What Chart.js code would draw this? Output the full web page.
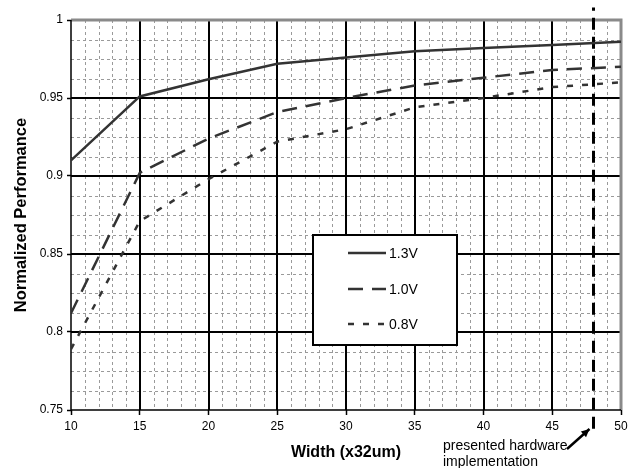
<!DOCTYPE html>
<html>
<head>
<meta charset="utf-8">
<script src="https://cdn.jsdelivr.net/npm/chart.js@4.4.1/dist/chart.umd.min.js"></script>
<style>
  html, body { margin: 0; padding: 0; background: #fff; }
  #wrap { width: 634px; height: 468px; }
</style>
</head>
<body>
<div id="wrap"><canvas id="chart" width="634" height="468"></canvas></div>
<script>
// データ
const widths = [10, 15, 20, 25, 30, 35, 40, 45, 50];
const perf13V = [0.910, 0.951, 0.962, 0.972, 0.976, 0.980, 0.982, 0.984, 0.986];
const perf10V = [0.812, 0.902, 0.924, 0.941, 0.950, 0.958, 0.963, 0.968, 0.970];
const perf08V = [0.789, 0.871, 0.898, 0.922, 0.930, 0.944, 0.950, 0.957, 0.960];
const seriesLabels = ['1.3V', '1.0V', '0.8V'];

// 軸の範囲・目盛り
const xRange = [10, 50];
const yRange = [0.75, 1.0];
const xMajorStep = 5;
const xMinorStep = 1;
const yMajorStep = 0.05;
const yMinorStep = 0.0125;

// 実装位置の縦線
const markerWidth = 48;
const markerSpan = [0.738, 1.008];
const noteLines = ['presented hardware', 'implementation'];

const FONT = 'Arial, "Liberation Sans", sans-serif';
const LINE_COLOR = '#333';

const toPoints = (ys) => widths.map((x, i) => ({ x: x, y: ys[i] }));

// グリッド (細かい破線 + 太い実線) を描画するプラグイン
const paperGrid = {
  id: 'paperGrid',
  beforeDatasetsDraw(chart) {
    const { ctx, chartArea: a, scales: { x, y } } = chart;
    ctx.save();
    // 細かい破線
    ctx.strokeStyle = '#9a9a9a';
    ctx.lineWidth = 1;
    ctx.setLineDash([3, 3]);
    for (let v = xRange[0] + xMinorStep; v < xRange[1]; v += xMinorStep) {
      const px = Math.round(x.getPixelForValue(v)) + 0.5;
      ctx.beginPath(); ctx.moveTo(px, a.top); ctx.lineTo(px, a.bottom); ctx.stroke();
    }
    for (let v = yRange[0] + yMinorStep; v < yRange[1] - 1e-9; v += yMinorStep) {
      const py = Math.round(y.getPixelForValue(v)) + 0.5;
      ctx.beginPath(); ctx.moveTo(a.left, py); ctx.lineTo(a.right, py); ctx.stroke();
    }
    // 太い実線
    ctx.setLineDash([]);
    ctx.strokeStyle = '#000';
    ctx.lineWidth = 2;
    for (let v = xRange[0] + xMajorStep; v < xRange[1]; v += xMajorStep) {
      const px = Math.round(x.getPixelForValue(v));
      ctx.beginPath(); ctx.moveTo(px, a.top); ctx.lineTo(px, a.bottom); ctx.stroke();
    }
    for (let v = yRange[0] + yMajorStep; v < yRange[1] - 1e-9; v += yMajorStep) {
      const py = Math.round(y.getPixelForValue(v));
      ctx.beginPath(); ctx.moveTo(a.left, py); ctx.lineTo(a.right, py); ctx.stroke();
    }
    // 枠線: 上と右は灰色、左と下は黒
    ctx.strokeStyle = '#8a8a8a';
    ctx.lineWidth = 3;
    ctx.beginPath();
    ctx.moveTo(a.left, a.top); ctx.lineTo(a.right, a.top); ctx.lineTo(a.right, a.bottom);
    ctx.stroke();
    ctx.strokeStyle = '#000';
    ctx.lineWidth = 1.5;
    ctx.beginPath();
    ctx.moveTo(a.left, a.top); ctx.lineTo(a.left, a.bottom); ctx.lineTo(a.right, a.bottom);
    ctx.stroke();
    ctx.restore();
  }
};

// 凡例ボックスと注記を描画するプラグイン
const boxLegend = {
  id: 'boxLegend',
  afterDraw(chart) {
    const { ctx } = chart;
    ctx.save();
    // 凡例
    const box = { left: 313, top: 235, right: 457, bottom: 345 };
    ctx.fillStyle = '#fff';
    ctx.fillRect(box.left, box.top, box.right - box.left, box.bottom - box.top);
    ctx.strokeStyle = '#000';
    ctx.lineWidth = 2;
    ctx.strokeRect(box.left, box.top, box.right - box.left, box.bottom - box.top);
    const rows = [253, 289, 324];
    ctx.font = '14px ' + FONT;
    ctx.textBaseline = 'middle';
    ctx.textAlign = 'left';
    seriesLabels.forEach((label, i) => {
      const ds = chart.data.datasets[i];
      ctx.strokeStyle = ds.borderColor;
      ctx.lineWidth = ds.borderWidth;
      ctx.setLineDash(ds.borderDash || []);
      ctx.beginPath();
      ctx.moveTo(348, rows[i]);
      ctx.lineTo(386, rows[i]);
      ctx.stroke();
      ctx.setLineDash([]);
      ctx.fillStyle = '#000';
      ctx.fillText(label, 389, rows[i] + 1);
    });

    // 注記テキスト
    ctx.font = '14px ' + FONT;
    ctx.fillStyle = '#000';
    ctx.textBaseline = 'middle';
    ctx.fillText(noteLines[0], 443, 446);
    ctx.fillText(noteLines[1], 443, 462);

    // 矢印
    const x = chart.scales.x;
    const tipX = x.getPixelForValue(markerWidth) - 4;
    const tipY = 429;
    const tailX = 567, tailY = 449;
    ctx.strokeStyle = '#000';
    ctx.lineWidth = 2.5;
    ctx.beginPath();
    ctx.moveTo(tailX, tailY);
    ctx.lineTo(tipX, tipY);
    ctx.stroke();
    const ang = Math.atan2(tipY - tailY, tipX - tailX);
    ctx.beginPath();
    ctx.moveTo(tipX, tipY);
    ctx.lineTo(tipX - 9 * Math.cos(ang - 0.45), tipY - 9 * Math.sin(ang - 0.45));
    ctx.lineTo(tipX - 9 * Math.cos(ang + 0.45), tipY - 9 * Math.sin(ang + 0.45));
    ctx.closePath();
    ctx.fill();
    ctx.restore();
  }
};

const ctx = document.getElementById('chart').getContext('2d');
new Chart(ctx, {
  type: 'line',
  data: {
    datasets: [
      {
        label: seriesLabels[0],
        data: toPoints(perf13V),
        borderColor: LINE_COLOR,
        borderWidth: 2.5,
        borderDash: [],
        pointRadius: 0,
        tension: 0
      },
      {
        label: seriesLabels[1],
        data: toPoints(perf10V),
        borderColor: LINE_COLOR,
        borderWidth: 2.5,
        borderDash: [15, 9],
        pointRadius: 0,
        tension: 0
      },
      {
        label: seriesLabels[2],
        data: toPoints(perf08V),
        borderColor: LINE_COLOR,
        borderWidth: 2.5,
        borderDash: [6, 9],
        pointRadius: 0,
        tension: 0
      },
      {
        label: 'marker',
        data: [{ x: markerWidth, y: markerSpan[0] }, { x: markerWidth, y: markerSpan[1] }],
        borderColor: '#000',
        borderWidth: 3,
        borderDash: [12, 7],
        pointRadius: 0,
        clip: false
      }
    ]
  },
  options: {
    responsive: false,
    devicePixelRatio: 1,
    animation: false,
    layout: { padding: { top: 20, right: 13, left: 0, bottom: 0 } },
    plugins: {
      legend: { display: false },
      tooltip: { enabled: false }
    },
    scales: {
      x: {
        type: 'linear',
        min: xRange[0],
        max: xRange[1],
        afterFit: (s) => { s.height = 58; },
        ticks: {
          stepSize: xMajorStep,
          color: '#000',
          padding: 4,
          maxRotation: 0,
          font: { family: FONT, size: 12 }
        },
        grid: { drawOnChartArea: false, drawTicks: true, tickLength: 5, tickColor: '#000', tickWidth: 1.5 },
        border: { display: false },
        title: {
          display: true,
          text: 'Width (x32um)',
          color: '#000',
          font: { family: FONT, size: 16, weight: 'bold' },
          padding: { top: 0, bottom: 6 }
        }
      },
      y: {
        min: yRange[0],
        max: yRange[1],
        afterFit: (s) => { s.width = 71; },
        ticks: {
          stepSize: yMajorStep,
          color: '#000',
          padding: 4,
          font: { family: FONT, size: 12 },
          callback: (v) => String(+v.toFixed(2))
        },
        grid: { drawOnChartArea: false, drawTicks: true, tickLength: 4, tickColor: '#000', tickWidth: 1.5 },
        border: { display: false },
        title: {
          display: true,
          text: 'Normalized Performance',
          color: '#000',
          font: { family: FONT, size: 16.5, weight: 'bold' },
          padding: { top: 12, bottom: 0 }
        }
      }
    }
  },
  plugins: [paperGrid, boxLegend]
});
</script>
</body>
</html>
